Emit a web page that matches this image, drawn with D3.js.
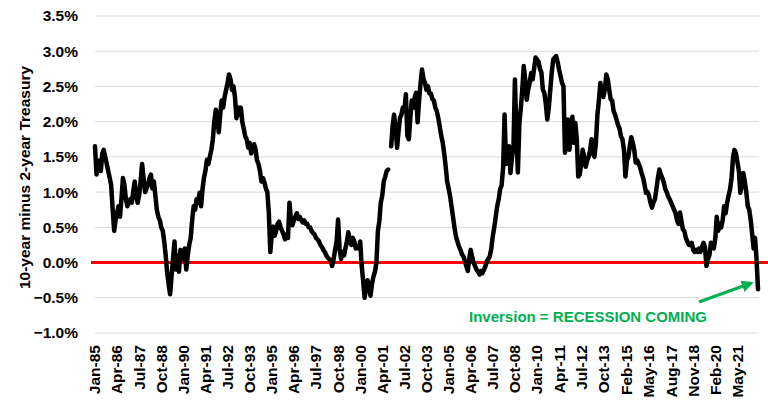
<!DOCTYPE html>
<html>
<head>
<meta charset="utf-8">
<script src="https://cdn.jsdelivr.net/npm/d3@7"></script>
<style>
  body { margin: 0; background: #fff; }
  svg { display: block; font-family: "Liberation Sans", Arial, sans-serif; }
</style>
</head>
<body>
<svg width="768" height="409"></svg>
<script>
// monthly 10y - 2y spread (%), starting Jan 1985
const startDate = new Date(1985, 0, 1);
const spread = [
  1.65, 1.25, 1.35, 1.45, 1.30, 1.55, 1.60, 1.50, 1.40, 1.30, 1.20, 1.10, // 1985
  0.75, 0.45, 0.60, 0.70, 0.80, 0.65, 0.90, 1.20, 1.10, 0.90, 0.80, 0.85, // 1986
  0.90, 0.85, 1.00, 1.15, 0.95, 0.85, 0.95, 1.15, 1.40, 1.20, 1.00, 1.05, // 1987
  1.10, 1.20, 1.25, 1.05, 1.15, 0.95, 0.75, 0.65, 0.60, 0.50, 0.45, 0.30, // 1988
  0.10, -0.15, -0.30, -0.45, -0.20, 0.05, 0.30, -0.10, 0.10, -0.13, 0.18, 0.05, // 1989
  0.15, 0.20, -0.10, 0.10, 0.25, 0.35, 0.60, 0.80, 0.75, 0.90, 0.85, 0.99, // 1990
  0.80, 1.05, 1.20, 1.30, 1.46, 1.40, 1.50, 1.60, 1.75, 2.00, 2.17, 2.05, // 1991
  1.85, 2.10, 2.30, 2.20, 2.35, 2.45, 2.55, 2.67, 2.60, 2.45, 2.50, 2.35, // 1992
  2.05, 2.20, 2.10, 2.20, 2.00, 1.90, 1.79, 1.75, 1.63, 1.70, 1.55, 1.60, // 1993
  1.68, 1.60, 1.45, 1.40, 1.30, 1.15, 1.20, 1.14, 1.05, 1.00, 0.70, 0.15, // 1994
  0.40, 0.51, 0.38, 0.45, 0.55, 0.58, 0.50, 0.45, 0.40, 0.33, 0.40, 0.35, // 1995
  0.85, 0.60, 0.53, 0.60, 0.65, 0.70, 0.62, 0.65, 0.60, 0.57, 0.60, 0.55, // 1996
  0.55, 0.50, 0.50, 0.45, 0.42, 0.40, 0.35, 0.33, 0.30, 0.25, 0.22, 0.18, // 1997
  0.15, 0.10, 0.07, 0.05, 0.03, -0.05, 0.05, 0.18, 0.30, 0.61, 0.20, 0.05, // 1998
  0.15, 0.10, 0.20, 0.30, 0.43, 0.30, 0.25, 0.35, 0.30, 0.20, 0.23, 0.20, // 1999
  0.30, -0.05, -0.25, -0.50, -0.35, -0.25, -0.35, -0.47, -0.30, -0.20, -0.13, 0.00, // 2000
  0.45, 0.60, 0.85, 0.95, 1.15, 1.22, 1.30, 1.32, null, 1.65, 1.94, 2.10, // 2001
  1.90, 1.63, 1.85, 2.05, 2.10, 2.20, 2.15, 2.39, 1.80, 1.75, 2.05, 2.30, // 2002
  2.20, 2.35, 2.41, 1.99, 2.30, 2.55, 2.74, 2.60, 2.55, 2.45, 2.50, 2.40, // 2003
  2.40, 2.32, 2.30, 2.20, 2.15, 2.05, 1.93, 1.80, 1.70, 1.55, 1.36, 1.15, // 2004
  1.05, 0.94, 0.80, 0.65, 0.50, 0.37, 0.30, 0.23, 0.18, 0.12, 0.09, 0.02, // 2005
  -0.05, -0.12, 0.05, 0.18, 0.08, 0.00, -0.05, -0.10, -0.13, -0.17, -0.12, -0.15, // 2006
  -0.10, -0.05, 0.02, 0.05, 0.09, 0.20, 0.37, 0.50, 0.65, 0.80, 0.90, 1.04, // 2007
  1.10, 1.36, 2.10, 1.40, 1.55, 1.65, 1.27, 1.50, 1.65, 2.60, 1.80, 1.28, // 2008
  1.98, 2.20, 2.45, 2.79, 2.60, 2.31, 2.45, 2.55, 2.69, 2.60, 2.75, 2.91, // 2009
  2.88, 2.85, 2.75, 2.70, 2.45, 2.41, 2.25, 2.03, 2.20, 2.45, 2.70, 2.88, // 2010
  2.91, 2.93, 2.85, 2.74, 2.65, 2.55, 2.50, 1.56, 1.70, 2.03, 1.60, 1.85, // 2011
  2.07, 1.70, 1.98, 1.75, 1.22, 1.25, 1.40, 1.60, 1.50, 1.36, 1.45, 1.50, // 2012
  1.60, 1.75, 1.55, 1.50, 1.70, 2.10, 2.30, 2.55, 2.40, 2.35, 2.45, 2.67, // 2013
  2.60, 2.45, 2.32, 2.30, 2.15, 2.10, 2.03, 1.95, 1.90, 1.79, 1.75, 1.60, // 2014
  1.22, 1.45, 1.50, 1.65, 1.78, 1.70, 1.60, 1.42, 1.45, 1.40, 1.35, 1.27, // 2015
  1.20, 1.10, 0.99, 1.00, 0.95, 0.85, 0.78, 0.85, 0.90, 1.04, 1.20, 1.32, // 2016
  1.25, 1.20, 1.14, 1.05, 1.00, 0.94, 0.90, 0.85, 0.80, 0.75, 0.70, 0.60, // 2017
  0.55, 0.71, 0.60, 0.47, 0.45, 0.35, 0.30, 0.25, 0.25, 0.28, 0.18, 0.15, // 2018
  0.18, 0.15, 0.20, 0.15, 0.22, 0.28, 0.22, -0.05, 0.05, 0.10, 0.28, 0.25, // 2019
  0.20, 0.35, 0.65, 0.45, 0.55, 0.50, 0.60, 0.80, 0.70, 0.85, 0.95, 1.04, // 2020
  1.20, 1.50, 1.60, 1.55, 1.43, 1.30, 0.99, 1.10, 1.27, 1.15, 1.00, 0.80, // 2021
  0.75, 0.60, 0.42, 0.20, 0.35, 0.05, -0.38                               // 2022
];

const xLabels = ["Jan-85", "Apr-86", "Jul-87", "Oct-88", "Jan-90", "Apr-91", "Jul-92", "Oct-93",
  "Jan-95", "Apr-96", "Jul-97", "Oct-98", "Jan-00", "Apr-01", "Jul-02", "Oct-03", "Jan-05",
  "Apr-06", "Jul-07", "Oct-08", "Jan-10", "Apr-11", "Jul-12", "Oct-13", "Feb-15", "May-16",
  "Aug-17", "Nov-18", "Feb-20", "May-21"];
const yTicks = [-1.0, -0.5, 0, 0.5, 1.0, 1.5, 2.0, 2.5, 3.0, 3.5];
const yTitle = "10-year minus 2-year Treasury";
const note = "Inversion = RECESSION COMING";

const svg = d3.select("svg");
const parse = d3.timeParse("%b-%y");

const data = spread.map((v, i) => ({ date: d3.timeMonth.offset(startDate, i), v: v }));

const x = d3.scaleTime()
  .domain([startDate, data[data.length - 1].date])
  .range([95, 758]);
const y = d3.scaleLinear().domain([-1, 3.5]).range([333, 16]);

// gridlines
svg.append("g")
  .selectAll("line")
  .data(yTicks)
  .join("line")
  .attr("x1", 95).attr("x2", 759)
  .attr("y1", d => y(d)).attr("y2", d => y(d))
  .attr("stroke", "#d9d9d9").attr("stroke-width", 1);

// y tick labels
svg.append("g")
  .selectAll("text")
  .data(yTicks)
  .join("text")
  .attr("x", 78).attr("y", d => y(d))
  .attr("dy", "0.35em")
  .attr("text-anchor", "end")
  .style("font-size", "15.5px").style("font-weight", "bold").style("fill", "#000")
  .text(d => d3.format(".1f")(d) + "%");

// x tick labels
svg.append("g")
  .selectAll("text")
  .data(xLabels)
  .join("text")
  .attr("transform", d => `translate(${x(parse(d))},345) rotate(-90)`)
  .attr("dy", "0.35em")
  .attr("text-anchor", "end")
  .style("font-size", "15.5px").style("font-weight", "bold").style("fill", "#000")
  .text(d => d);

// axis title
svg.append("text")
  .attr("transform", `translate(25,${(y(3.5) + y(-1)) / 2 + 3}) rotate(-90)`)
  .attr("dy", "0.35em")
  .attr("text-anchor", "middle")
  .style("font-size", "15.5px").style("font-weight", "bold")
  .text(yTitle);

// zero line
svg.append("line")
  .attr("x1", 91).attr("x2", 768)
  .attr("y1", y(0)).attr("y2", y(0))
  .attr("stroke", "#ff0000").attr("stroke-width", 3);

// spread line
const line = d3.line()
  .defined(d => d.v !== null)
  .x(d => x(d.date))
  .y(d => y(d.v));

svg.append("path")
  .datum(data)
  .attr("d", line)
  .attr("fill", "none")
  .attr("stroke", "#000")
  .attr("stroke-width", 4.5)
  .attr("stroke-linejoin", "round")
  .attr("stroke-linecap", "round");

// annotation
const green = "#00b050";
svg.append("defs").append("marker")
  .attr("id", "arrow")
  .attr("viewBox", "0 0 10 10")
  .attr("refX", 8).attr("refY", 5)
  .attr("markerWidth", 4).attr("markerHeight", 4)
  .attr("orient", "auto")
  .append("path")
  .attr("d", "M0,0L10,5L0,10z")
  .attr("fill", green);

svg.append("line")
  .attr("x1", x(new Date(2019, 2, 1))).attr("y1", y(-0.56))
  .attr("x2", x(new Date(2022, 1, 15))).attr("y2", y(-0.29))
  .attr("stroke", green).attr("stroke-width", 3)
  .attr("marker-end", "url(#arrow)");

svg.append("text")
  .attr("x", 588).attr("y", 322)
  .attr("text-anchor", "middle")
  .style("font-size", "15px").style("font-weight", "bold").style("fill", green)
  .text(note);
</script>
</body>
</html>
